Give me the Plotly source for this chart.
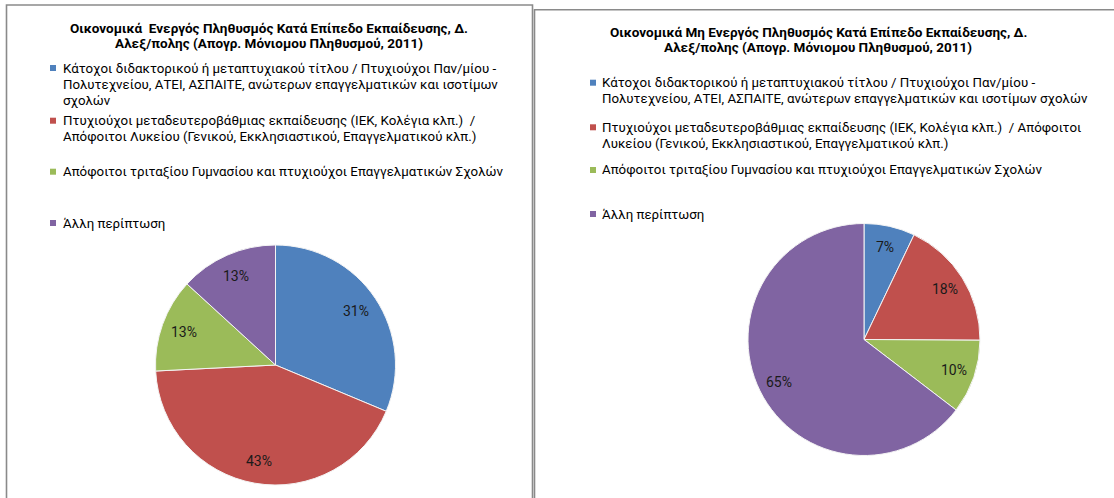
import math
import textwrap
import plotly.graph_objects as go

W, H = 1114, 498

categories = [
    "Κάτοχοι διδακτορικού ή μεταπτυχιακού τίτλου / Πτυχιούχοι Παν/μίου - Πολυτεχνείου, ΑΤΕΙ, ΑΣΠΑΙΤΕ, ανώτερων επαγγελματικών και ισοτίμων σχολών",
    "Πτυχιούχοι μεταδευτεροβάθμιας εκπαίδευσης (ΙΕΚ, Κολέγια κλπ.)  / Απόφοιτοι Λυκείου (Γενικού, Εκκλησιαστικού, Επαγγελματικού κλπ.)",
    "Απόφοιτοι τριταξίου Γυμνασίου και πτυχιούχοι Επαγγελματικών Σχολών",
    "Άλλη περίπτωση",
]
active_pct = [31.3, 42.9, 12.6, 13.2]
inactive_pct = [7.1, 18.0, 10.3, 64.6]
colors = ["#4F81BD", "#C0504D", "#9BBB59", "#8064A2"]

title_active = ["Οικονομικά  Ενεργός Πληθυσμός Κατά Επίπεδο Εκπαίδευσης, Δ.",
                "Αλεξ/πολης (Απογρ. Μόνιομου Πληθυσμού, 2011)"]
title_inactive = ["Οικονομικά Μη Ενεργός Πληθυσμός Κατά Επίπεδο Εκπαίδευσης, Δ.",
                  "Αλεξ/πολης (Απογρ. Μόνιομου Πληθυσμού, 2011)"]

FONT = "Roboto"


def px(x):
    return x / W


def py(y):
    return 1 - y / H


fig = go.Figure()
annotations = []
shapes = []


def add_pie(values, cx, cy, r, label_frac):
    fig.add_trace(go.Pie(
        labels=categories,
        values=values,
        sort=False,
        direction="clockwise",
        rotation=0,
        marker=dict(colors=colors, line=dict(color="#f4f4f4", width=1)),
        textinfo="none",
        domain=dict(x=[px(cx - r), px(cx + r)], y=[py(cy + r), py(cy - r)]),
        showlegend=False,
        hoverinfo="label+percent",
    ))
    total = sum(values)
    cum = 0.0
    for v in values:
        mid = (cum + v / 2) / total
        cum += v
        th = 2 * math.pi * mid
        lx = cx + label_frac * r * math.sin(th)
        ly = cy - label_frac * r * math.cos(th)
        annotations.append(dict(
            text="%d%%" % round(100 * v / total), x=px(lx), y=py(ly),
            xref="paper", yref="paper", xanchor="center", yanchor="middle",
            showarrow=False, font=dict(family=FONT, size=14, color="#1a1a1a")))


add_pie(active_pct, 275.5, 365, 120, 0.81)
add_pie(inactive_pct, 864, 339.5, 116, 0.82)


def add_title(lines, cx, y0, dy):
    for i, t in enumerate(lines):
        annotations.append(dict(
            text="<b>%s</b>" % t, x=px(cx), y=py(y0 + i * dy), xref="paper", yref="paper",
            xanchor="center", yanchor="middle", showarrow=False,
            font=dict(family=FONT, size=13.5, color="#000000")))


def add_legend(sq_x, txt_x, item_ys, wrap_w, dy=16):
    for k, cat in enumerate(categories):
        lines = textwrap.wrap(cat, wrap_w)
        y0 = item_ys[k]
        shapes.append(dict(type="rect", xref="paper", yref="paper",
                           x0=px(sq_x - 3), x1=px(sq_x + 3), y0=py(y0 + 3), y1=py(y0 - 3),
                           fillcolor=colors[k], line=dict(width=0)))
        for i, ln in enumerate(lines):
            annotations.append(dict(
                text=ln, x=px(txt_x), y=py(y0 + i * dy), xref="paper", yref="paper",
                xanchor="left", yanchor="middle", showarrow=False,
                font=dict(family=FONT, size=13.3, color="#000000")))


add_title(title_active, 269, 28, 15.5)
add_title(title_inactive, 818, 31.7, 15.5)
add_legend(53, 61, [68, 120.7, 171.7, 223], 70)
add_legend(593, 600, [82.7, 127.3, 170, 214], 76)

# panel borders
shapes.append(dict(type="rect", xref="paper", yref="paper",
                   x0=px(6.5), x1=px(532.5), y0=py(530), y1=py(5),
                   line=dict(color="#8a8a8a", width=1.6), fillcolor="rgba(0,0,0,0)"))
shapes.append(dict(type="rect", xref="paper", yref="paper",
                   x0=px(534.5), x1=px(1140), y0=py(530), y1=py(9.8),
                   line=dict(color="#8a8a8a", width=1.6), fillcolor="rgba(0,0,0,0)"))

fig.update_layout(
    width=W, height=H,
    margin=dict(l=0, r=0, t=0, b=0),
    paper_bgcolor="white", plot_bgcolor="white",
    annotations=annotations, shapes=shapes,
    font=dict(family=FONT),
)

fig.write_html("out.html", config={"displayModeBar": False},
               post_script="document.body.style.margin='0px';document.body.style.overflow='hidden';")
